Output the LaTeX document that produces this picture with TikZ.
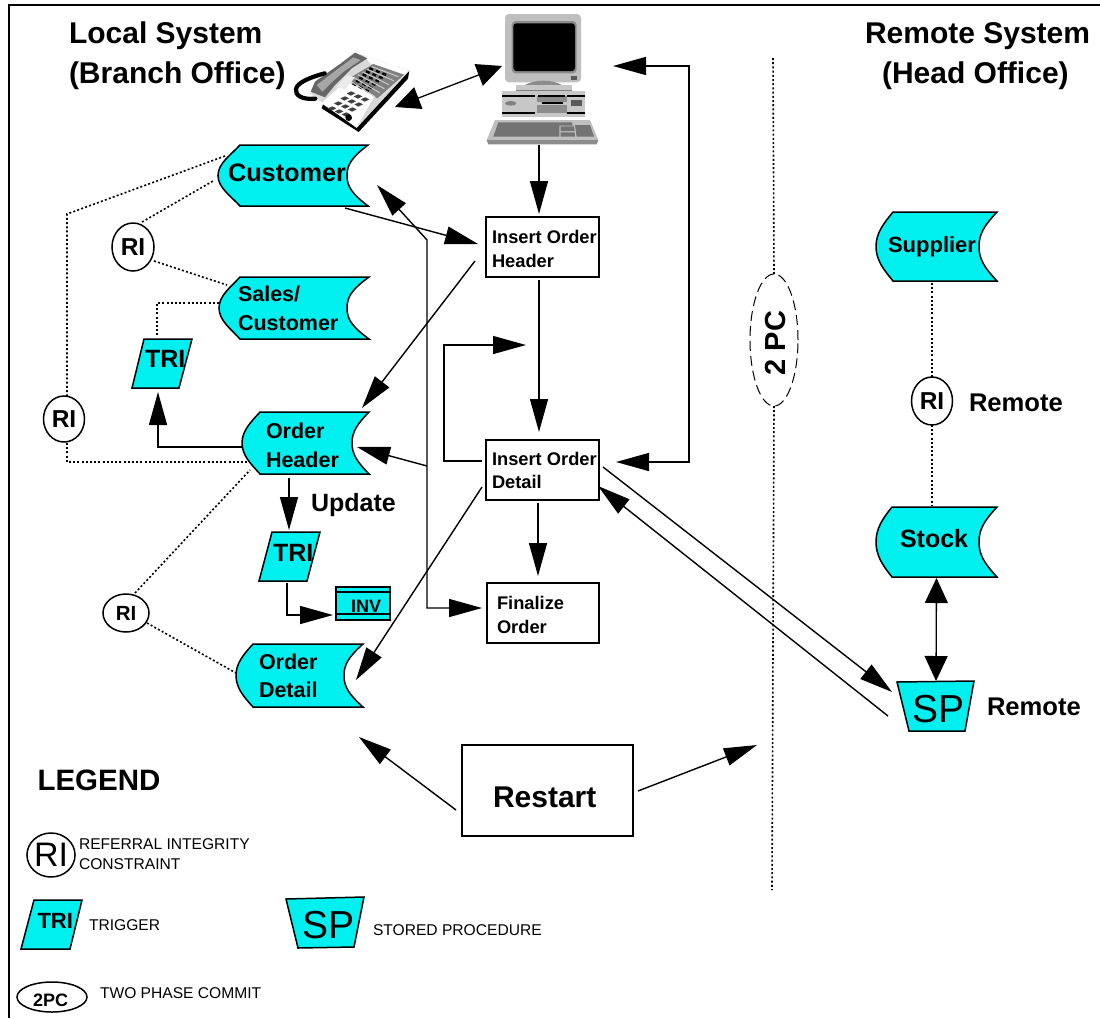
\documentclass[tikz,border=0pt]{standalone}
\usepackage{fontspec}
\setmainfont{Liberation Sans}
\usetikzlibrary{arrows.meta,shapes.geometric}
\definecolor{tq}{HTML}{00F0F0}
\newcommand\fsz[2]{\fontsize{#1}{#2}\selectfont}
% name, x, baseline y, size, leading, text
\newcommand\lab[6]{\node[lab,font=\bfseries\fsz{#4}{#5}] (#1) at (#2,#3) {#6};}
\newcommand\labr[5]{\node[lab,font=\fsz{#4}{#4}] (#1) at (#2,#3) {#5};}
% name, xl, xcorner, xinner, xr, ytop, ybot
\newcommand\store[7]{%
  \draw[outl,fill=tq] (#3,#6) -- (#5,#6)
    .. controls ({#4+5},{#6+.2*(#7-#6)}) and (#4,{#6+.32*(#7-#6)}) .. (#4,{.5*(#6+#7)})
    .. controls (#4,{#6+.68*(#7-#6)}) and ({#4+5},{#6+.8*(#7-#6)}) .. (#5,#7)
    -- (#3,#7)
    .. controls ({#3-9},{#6+.84*(#7-#6)}) and (#2,{#6+.7*(#7-#6)}) .. (#2,{.5*(#6+#7)})
    .. controls (#2,{#6+.3*(#7-#6)}) and ({#3-9},{#6+.16*(#7-#6)}) .. (#3,#6) -- cycle;
  \node[anchorbox,minimum width={(#5-#2)*1pt},minimum height={(#7-#6)*1pt}] (#1) at ({.5*(#2+#5)},{.5*(#6+#7)}) {};}
\newcommand\poly[7]{% name, topL, topR, botR, botL, center, size options
  \draw[outl,fill=tq] #2 -- #3 -- #4 -- #5 -- cycle;
  \node[anchorbox,#7] (#1) at #6 {};}
\tikzset{
  outl/.style={draw=black,line width=1.5pt,line join=miter},
  anchorbox/.style={inner sep=0pt,outer sep=0pt},
  lab/.style={anchor=base west,inner sep=0pt,outer sep=0pt,align=left},
  flow/.style={draw=black,line width=1.4pt,-{Triangle[length=33pt,width=18pt]}},
  flowb/.style={draw=black,line width=1.4pt,{Triangle[length=33pt,width=18pt]}-{Triangle[length=33pt,width=18pt]}},
  wideb/.style={draw=black,line width=1.3pt,{Triangle[length=25pt,width=23pt]}-{Triangle[length=25pt,width=23pt]}},
  dots/.style={draw=black,line width=1.6pt,dash pattern=on 2pt off 2.2pt},
  boxn/.style={draw=black,line width=1.6pt,inner sep=0pt,outer sep=0pt},
  ring/.style={draw=black,line width=1.5pt,ellipse,inner sep=0pt,outer sep=0pt,fill=white},
}
\begin{document}
\begin{tikzpicture}[x=1pt,y=-1pt]
\useasboundingbox (0,0) rectangle (1100,1018);
\fill[white] (0,0) rectangle (1100,1018);
\draw[black,line width=1.5pt] (1100,5) -- (9,5) -- (9,1018);

% ---------- titles
\lab{tLocal}{69}{43}{30}{40}{Local System}
\lab{tBranch}{69}{83}{30}{40}{(Branch Office)}
\lab{tRemote}{865}{43}{30}{40}{Remote System}
\lab{tHead}{882}{83}{30}{40}{(Head Office)}

% ---------- computer
\begin{scope}[shift={(480,5)},x=1/3*1pt,y=-1/3*1pt]
  \fill[gray!50,rounded corners=4pt] (75,27) rectangle (303,232);
  \fill[gray!90,rounded corners=4pt] (95,48) rectangle (290,205);
  \fill[black,rounded corners=3pt] (100,55) rectangle (285,198);
  \fill[black!65] (272,212) rectangle (292,224);
  \fill[black!45] (130,242) .. controls (165,222) and (215,222) .. (250,242) -- cycle;
  \fill[black!22] (107,240) rectangle (275,262);
  \fill[black!50] (107,255) rectangle (275,262);
  \fill[black!22] (65,258) rectangle (315,335);
  \fill[black!45] (172,272) rectangle (262,325);
  \fill[black!22] (172,292) rectangle (262,300);
  \fill[black] (65,270) rectangle (165,275);
  \fill[black] (175,270) rectangle (255,275);
  \fill[black] (262,270) rectangle (315,275);
  \fill[black] (65,321) rectangle (165,326);
  \fill[black] (262,321) rectangle (315,326);
  \fill[black] (185,290) rectangle (250,296);
  \fill[black!50] (92,295) ellipse (17 and 7);
  \fill[black!65] (272,285) rectangle (305,303);
  \fill[black!25] (45,345) -- (330,345) -- (355,405) -- (20,405) -- cycle;
  \fill[black!45] (20,405) -- (355,405) -- (350,418) -- (25,418) -- cycle;
  \fill[black!55] (55,352) -- (276,352) -- (278,362) -- (238,362) -- (238,395) -- (40,395) -- cycle;
  \fill[black!55] (285,360) -- (330,360) -- (342,395) -- (290,395) -- cycle;
  \fill[black!55] (242,364) -- (282,364) -- (284,378) -- (242,378) -- cycle;
  \fill[black!55] (242,382) -- (284,382) -- (285,395) -- (242,395) -- cycle;
\end{scope}
\node[anchorbox,minimum width=111pt,minimum height=129pt] (pc) at (542.5,78.5) {};

% ---------- telephone
\begin{scope}[shift={(290,40)},x=1/3*1pt,y=-1/3*1pt]
  \fill[black] (100,190) -- (200,262) -- (358,92) -- (354,116) -- (206,276) -- (95,205) -- cycle;
  \fill[black!15] (60,160) -- (195,38) -- (358,92) -- (200,264) -- cycle;
  \fill[white] (95,190) -- (165,125) -- (255,165) -- (200,262) -- cycle;
  \fill[white] (225,48) -- (355,92) -- (340,106) -- (240,70) -- cycle;
  \fill[black!50] (172,118) -- (250,72) -- (342,104) -- (262,175) -- cycle;
  \foreach \i in {0,...,5} {
    \draw[black,line width=2.4pt,dash pattern=on 4pt off 3pt]
      ({188+\i*10},{130-\i*9}) -- ({240+\i*11},{157-\i*10});
  }
  \foreach \i in {0,...,5} {
    \draw[black!20,line width=1pt] ({176+\i*14},{120-\i*8}) -- ({255+\i*14},{170-\i*12});
  }
  \fill[black!60] (62,155) -- (75,125) -- (150,72) -- (195,38) -- (232,55) -- (185,85) -- (135,135) -- (105,172) -- cycle;
  \fill[black!35] (80,135) -- (150,82) -- (190,52) -- (212,60) -- (165,92) -- (122,130) -- (97,155) -- cycle;
  \fill[black!8] (140,140) -- (170,105) -- (195,112) -- (165,148) -- cycle;
  \draw[black,line width=4.2pt,line cap=round] (76,176) .. controls (35,180) and (15,165) .. (18,148) .. controls (20,128) and (60,112) .. (104,100);
  \foreach \a in {0,1,2} \foreach \b in {0,1,2,3} {
    \fill[black!75] ({170+\a*21-\b*19},{160+\a*9+\b*15}) -- ({184+\a*21-\b*19},{154+\a*9+\b*15}) -- ({196+\a*21-\b*19},{160+\a*9+\b*15}) -- ({182+\a*21-\b*19},{167+\a*9+\b*15}) -- cycle;
  }
  \fill[black] (176,233) circle (10);
\end{scope}
\node[anchorbox,minimum width=114pt,minimum height=78pt] (phone) at (352,92) {};

% ---------- local data stores
\store{cust}{218}{240}{347}{368}{145}{206}
\lab{custT}{228}{181}{25.3}{29}{Customer}
\store{sales}{219}{240}{347}{369}{277}{339}
\lab{salesT}{238}{330}{21.5}{29}{Sales/\\Customer}
\store{oh}{242}{260}{352}{369}{412}{474}
\lab{ohT}{266}{467}{21.5}{29}{Order\\Header}
\store{od}{236}{253}{344}{363}{644}{707}
\lab{odT}{259}{697}{21.5}{28}{Order\\Detail}

% ---------- remote data stores
\store{supp}{876}{893}{979}{997}{212}{281}
\lab{suppT}{888}{252}{22}{29}{Supplier}
\store{stock}{876}{892}{979}{997}{507}{577}
\lab{stockT}{900}{547}{25}{29}{Stock}

% ---------- triggers, table, SP
\poly{tri1}{(144,339)}{(192,339)}{(179,388)}{(132,388)}{(162,363.5)}{minimum width=60pt,minimum height=49pt}
\lab{tri1T}{145}{367}{25}{29}{TRI}
\poly{tri2}{(272,532)}{(320,532)}{(307,581)}{(259,581)}{(289.5,556.5)}{minimum width=61pt,minimum height=49pt}
\lab{tri2T}{273}{561}{25}{29}{TRI}
\node[boxn,fill=tq,minimum width=54pt,minimum height=33pt] (inv) at (363,603.5) {};
\draw[black,line width=1.5pt] (inv.west |- 0,592) -- (inv.east |- 0,592);
\draw[black,line width=1.5pt] (inv.west |- 0,614) -- (inv.east |- 0,614);
\lab{invT}{351}{612}{18}{20}{INV}
\poly{sp}{(897,682)}{(974,681)}{(965,731)}{(909,731)}{(935.5,706)}{minimum width=77pt,minimum height=50pt}
\labr{spT}{912}{722}{39}{SP}
\lab{spR}{987}{715}{25.6}{29}{Remote}

% ---------- process boxes
\node[boxn,minimum width=113pt,minimum height=60pt] (hdr) at (542.5,247) {};
\lab{hdrT}{492}{267}{18.3}{24}{Insert Order\\Header}
\node[boxn,minimum width=113pt,minimum height=60pt] (dtl) at (542.5,470) {};
\lab{dtlT}{492}{488}{18.3}{23}{Insert Order\\Detail}
\node[boxn,minimum width=112pt,minimum height=60pt] (fin) at (543,613) {};
\lab{finT}{497}{633}{18.3}{24}{Finalize\\Order}
\node[boxn,minimum width=171pt,minimum height=91pt] (rst) at (547.5,790.5) {};
\lab{rstT}{493}{807}{30}{34}{Restart}

% ---------- RI circles
\node[ring,minimum width=42pt,minimum height=48pt,font=\bfseries\fsz{24.5}{25}] (ri1) at (133,247) {RI};
\node[ring,minimum width=41pt,minimum height=46pt,font=\bfseries\fsz{24.5}{25}] (ri2) at (64,419) {RI};
\node[ring,minimum width=46pt,minimum height=38pt,font=\bfseries\fsz{20.5}{21}] (ri3) at (126,613) {RI};
\node[ring,minimum width=41pt,minimum height=48pt,font=\bfseries\fsz{24.5}{25}] (ri4) at (932,401) {RI};
\lab{riR}{969}{411}{25.6}{29}{Remote}
\lab{upd}{311}{511}{25}{29}{Update}

% ---------- two phase commit
\node[draw=black,line width=1pt,dash pattern=on 10pt off 5pt,ellipse,inner sep=0pt,outer sep=0pt,minimum width=48pt,minimum height=132pt] (tpc) at (774,340) {};
\node[anchor=base,inner sep=0pt,rotate=90,font=\bfseries\fsz{29}{30}] (tpcT) at (785,343) {2 PC};
\coordinate (vTop) at (773,58);
\coordinate (vBot) at (772,890);
\draw[dots] (vTop) -- (tpc.north);
\draw[dots] (tpc.south) -- (vBot);

% ---------- free ends and bends
\coordinate (loopA) at (444,461);
\coordinate (loopB) at (444,345);
\coordinate (loopTip) at (526,345);
\coordinate (busTop) at (427,240);
\coordinate (busBot) at (427,608);
\coordinate (rLoopA) at (689,66);
\coordinate (rLoopB) at (689,462);
\coordinate (rstTip) at (757,745);
\coordinate (dotBend) at (67,214);
\coordinate (dotBendB) at (67,462);
\coordinate (salesBend) at (157,303);
\coordinate (triBend) at (158,447);
\coordinate (invBend) at (287,615);

% ---------- flow connectors
\draw[flow] ([shift={(-23,2)}]cust.south east) -- ([shift={(-8,-3)}]hdr.west);
\draw[flow] ([shift={(-11,14)}]hdr.west) -- ([shift={(-7,-4)}]oh.north east);
\draw[flow] ([shift={(-3.5,2)}]pc.south) -- ([shift={(-3.5,-3)}]hdr.north);
\draw[flow] ([shift={(-3.5,3)}]hdr.south) -- ([shift={(-3.5,-8)}]dtl.north);
\draw[flow] ([shift={(-4.5,3)}]dtl.south) -- ([shift={(-5,-7)}]fin.north);
\draw[flow] ([shift={(-4,-9)}]dtl.west) -- (loopA) -- (loopB) -- (loopTip);
\draw[flowb] ([shift={(15,-12.5)}]pc.east) -- (rLoopA) -- (rLoopB) -- ([shift={(17,-8)}]dtl.east);
\draw[flow] ([shift={(4,-3)}]dtl.east) -- ([shift={(-5,-14)}]sp.west);
\draw[flow] ([shift={(-9,10)}]sp.west) -- ([shift={(-1,16)}]dtl.east);
\draw[flow] ([shift={(-4,17)}]dtl.west) -- ([shift={(-7,4.5)}]od.east);
\draw[flow] ([shift={(-59,-4)}]dtl.west) -- ([shift={(-12,4)}]oh.east);
\draw[flowb] ([shift={(9,9.5)}]cust.east) -- (busTop) -- (busBot) -- ([shift={(-5,-5)}]fin.west);
\draw[flow] ([shift={(0,4)}]oh.west) -- (triBend) -- ([shift={(-4,4)}]tri1.south);
\draw[flow] ([shift={(-16.5,4)}]oh.south) -- ([shift={(-.5,-2)}]tri2.north);
\draw[flow] ([shift={(-2.5,2)}]tri2.south) -- (invBend) -- ([shift={(-3,11.5)}]inv.west);
\draw[flow] ([shift={(-6,19.5)}]rst.west) -- ([shift={(-4,30)}]od.south east);
\draw[flow] ([shift={(5,.5)}]rst.east) -- (rstTip);
\draw[wideb] ([shift={(0,1)}]stock.south) -- ([shift={(.5,0)}]sp.north);
\draw[wideb] ([shift={(-14,15)}]phone.east) -- ([shift={(15,-12.5)}]pc.west);

% ---------- dotted constraints
\draw[dots] ([shift={(7,11)}]cust.north west) -- (dotBend) -- ([shift={(3,0)}]ri2.north);
\draw[dots] ([shift={(3,1)}]ri2.south) -- (dotBendB) -- ([shift={(5,19)}]oh.west);
\draw[dots] ([shift={(9,-1)}]ri1.north) -- ([shift={(-5,5.5)}]cust.west);
\draw[dots] ([shift={(0,14)}]ri1.east) -- ([shift={(8,8)}]sales.north west);
\draw[dots] ([shift={(0,-5)}]sales.west) -- (salesBend) -- ([shift={(-5,-3)}]tri1.north);
\draw[dots] ([shift={(9,-1)}]ri3.north) -- ([shift={(8,-4)}]oh.south west);
\draw[dots] ([shift={(-2,10)}]ri3.east) -- ([shift={(0,-2.5)}]od.west);
\draw[dots] ([shift={(-4.5,2)}]supp.south) -- (ri4.north);
\draw[dots] (ri4.south) -- ([shift={(-4.5,-2)}]stock.north);

% ---------- legend
\lab{legT}{37.5}{790}{29.5}{32}{LEGEND}
\node[ring,minimum width=43pt,minimum height=44pt,font=\fsz{34}{34}] (legRI) at (51,855) {RI};
\labr{legRI1}{79}{849}{15.6}{REFERRAL INTEGRITY}
\labr{legRI2}{79}{869}{15.6}{CONSTRAINT}
\poly{legTri}{(34,900)}{(82,900)}{(70,949)}{(21,949)}{(51.5,924.5)}{minimum width=61pt,minimum height=49pt}
\lab{legTriT}{37.5}{928}{22}{24}{TRI}
\labr{legTriL}{89}{930}{15.6}{TRIGGER}
\poly{legSP}{(286,899)}{(364,897)}{(354,947)}{(298,948)}{(325,922.5)}{minimum width=78pt,minimum height=51pt}
\labr{legSPT}{302}{938}{39}{SP}
\labr{legSPL}{373}{935}{15.6}{STORED PROCEDURE}
\node[ring,minimum width=70pt,minimum height=30pt] (leg2PC) at (52,997) {};
\lab{leg2PCT}{33}{1006}{18}{18}{2PC}
\labr{leg2PCL}{100}{998}{15.6}{TWO PHASE COMMIT}
\end{tikzpicture}
\end{document}
